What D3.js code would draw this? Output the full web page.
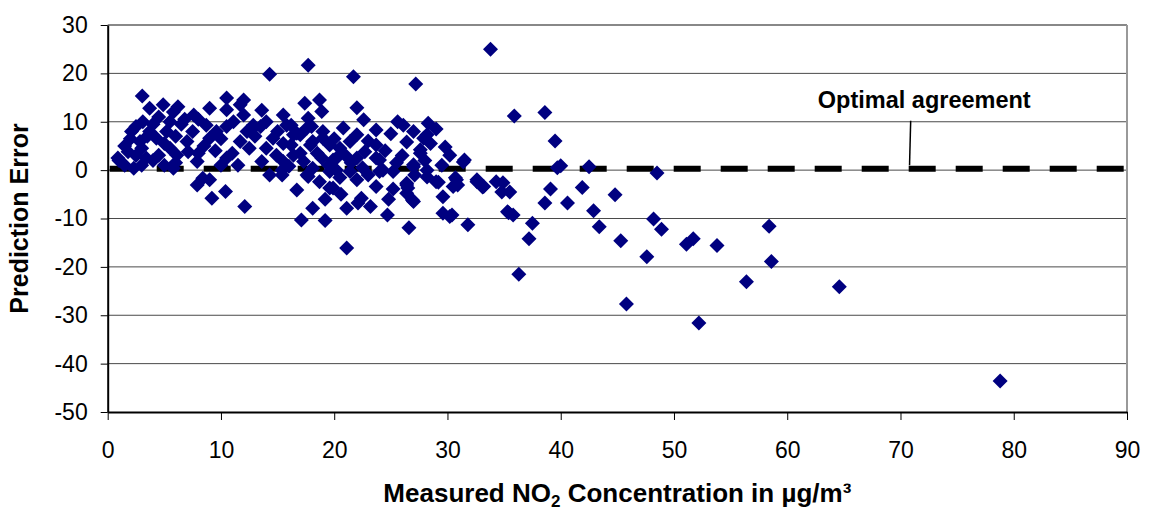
<!DOCTYPE html>
<html>
<head>
<meta charset="utf-8">
<script src="https://cdn.jsdelivr.net/npm/d3@7"></script>
<style>
  body { margin: 0; background: #fff; }
  text { font-family: "Liberation Sans", Arial, sans-serif; }
</style>
</head>
<body>
<div id="chart-area"></div>
<script>
// measured NO2 (x) vs prediction error (y)
var points = [
    [33.8,25.0],[27.2,17.8],[35.9,11.2],[38.6,11.9],[39.5,6.0],[40.0,0.9],[42.5,0.7],[39.7,0.5],
    [39.1,-3.9],[41.9,-3.6],[40.6,-6.8],[38.6,-6.8],[44.8,-5.1],[42.9,-8.4],[43.4,-11.7],[37.5,-11.0],
    [37.2,-14.2],[36.3,-21.5],[45.3,-14.6],[45.8,-27.7],[47.6,-17.9],[48.2,-10.1],[48.9,-12.2],[48.5,-0.6],
    [51.1,-15.3],[51.7,-14.2],[53.8,-15.6],[52.2,-31.6],[56.4,-23.1],[58.4,-11.6],[58.6,-18.9],[64.6,-24.1],
    [78.8,-43.6],
    [34.9,-2.6],[35.5,-4.5],[35.4,-8.8],[35.8,-9.3],[34.8,-4.5],[35.3,-8.6],[34.3,-2.4],[33.2,-3.4],
    [32.6,-2.4],[31.8,-11.3],[30.8,-2.0],[30.5,-3.4],[31.5,2.1],[31.4,1.7],[30.2,3.1],[29.8,4.8],
    [30.2,-9.6],[29.6,-8.9],[30.4,-9.3],[29.6,-5.5],[30.7,-1.6],[30.9,-3.1],[32.6,-2.0],[33.1,-3.5],
    [26.1,9.3],[28.3,9.7],[28.2,7.3],[26.4,5.8],[27.6,4.2],[27.0,0.7],[27.1,-1.0],[28.2,-1.4],
    [29.2,-2.5],[26.5,-3.7],[26.9,-6.2],
    [3.05,15.3],[0.9,2.5],[2.3,0.4],[2.1,8.0],[1.8,3.8],[3.7,12.8],[4.9,13.5],[6.2,13.1],
    [7.6,11.4],[3.1,10.0],[3.7,8.0],[2.85,5.9],[4.3,6.6],[5.2,8.0],[5.5,4.5],[4.5,3.1],
    [3.4,2.5],[6.1,3.1],[5.8,0.4],[7.0,5.9],[7.1,3.8],[7.9,1.8],[7.9,-3.1],[8.4,-1.7],
    [9.2,-5.8],[10.4,-4.4],[9.0,12.8],[10.5,14.9],[8.7,9.3],[9.0,6.6],[9.6,8.0],[10.5,2.5],
    [11.7,13.5],[12.0,11.4],[11.1,10.0],[11.7,5.9],[12.3,8.0],[12.1,-7.5],[13.6,1.8],[13.6,12.4],
    [14.0,10.0],[14.3,19.8],[12.85,9.3],[15.5,11.4],[14.6,6.6],[15.8,9.3],[16.4,7.3],[14.3,-1.0],
    [15.4,-1.0],[16.7,-4.1],[16.2,5.2],[14.9,3.1],[17.7,21.7],[17.4,13.8],[18.7,14.5],[18.9,12.1],
    [17.7,10.7],[17.0,7.3],[18.1,5.9],[18.1,0.4],[17.6,-1.0],[18.7,-2.4],[19.6,-3.7],[18.1,-7.9],
    [20.8,8.7],[21.1,-7.9],[17.1,-10.3],[19.2,-10.4],[21.1,-16.1],[17.7,-1.3],[19.9,-3.7],
    [22.1,-6.8],[22.4,-5.8],[22.0,-2.0],[23.7,-3.4],[24.7,-9.3],[25.2,-3.9],[26.4,-2.7],[27.0,-6.5],
    [26.6,-11.9],[26.4,-4.8],[27.6,3.5],[28.2,0.0],[29.0,-2.4],[15.4,0.0],[20.2,0.0],[19.9,2.1],
    [24.0,2.1],[24.3,0.0],[22.0,2.5],
    [21.7,19.3],[22.0,12.9],[22.6,10.4],[12.85,8.7],[16.2,9.3],[16.7,7.6],[17.6,8.7],[17.9,5.2],
    [19.0,6.6],[19.6,5.2],[20.5,4.5],[21.4,5.9],[22.0,7.3],[22.7,3.8],[23.7,8.3],[23.7,5.2],
    [25.6,10.0],[27.0,8.0],[27.9,6.6],[15.5,1.8],[16.4,3.1],[17.3,1.8],[18.9,2.5],[19.6,-0.3],
    [20.2,2.5],[21.4,-0.3],[23.7,2.5],[24.0,-0.3],[25.2,-0.3],[26.4,-3.1],[27.0,1.1],
    [1.0,2.0],[1.5,5.0],[2.0,6.5],[2.5,3.0],[3.0,4.5],[3.5,7.0],[4.0,9.5],[4.5,11.0],
    [5.0,5.5],[5.5,10.0],[6.0,7.0],[6.5,9.5],[6.0,1.5],[5.0,1.0],[4.0,2.0],[3.0,1.0],
    [7.5,8.0],[8.0,10.5],[8.5,5.0],[8.0,3.5],[9.5,4.0],[10.0,6.5],[10.5,9.0],[11.0,3.5],
    [11.5,1.0],[10.0,1.0],[9.0,-2.0],[12.5,4.5],[13.0,7.0],[13.5,9.0],[12.0,14.5],[10.5,12.5],
    [6.8,10.5],[2.5,9.0],[5.8,12.0],[1.5,1.0],
    [14.0,4.5],[15.0,8.0],[15.5,5.5],[16.0,0.8],[17.0,3.5],[18.0,9.0],[18.5,3.5],[19.0,8.0],
    [19.5,1.0],[20.0,6.5],[20.5,-1.5],[21.0,3.0],[21.5,1.5],[22.5,0.5],[23.0,6.0],[23.0,-1.0],
    [24.5,4.0],[25.0,7.5],[25.5,1.5],[26.0,3.0],[28.5,5.5],[29.0,8.5],[28.0,2.0],[29.5,1.0],
    [24.8,-6.0],[23.2,-7.5],[20.6,-5.0],[19.2,-6.0]
];

var xTicks = [0, 10, 20, 30, 40, 50, 60, 70, 80, 90];
var yTicks = [30, 20, 10, 0, -10, -20, -30, -40, -50];
var optimalValue = 0;
var optimalLabel = "Optimal agreement";
// label anchor and leader line, in data units
var labelAt = [72.1, 12.8];
var leader = [[70.9, 10.2], [70.8, 1.0]];

var margins = { top: 25, right: 38, bottom: 100, left: 107.7 },
    width = 1165,
    height = 512,
    plotW = width - margins.left - margins.right,
    plotH = height - margins.top - margins.bottom;

var svg = d3.select("#chart-area").append("svg")
    .attr("width", width)
    .attr("height", height)
    .style("display", "block");

svg.append("rect").attr("width", width).attr("height", height).attr("fill", "#fff");

var g = svg.append("g").attr("transform", `translate(${margins.left},${margins.top})`);

var x = d3.scaleLinear().domain([0, 90]).range([0, plotW]);
var y = d3.scaleLinear().domain([-50, 30]).range([plotH, 0]);

// gridlines
g.append("g").selectAll("line")
    .data(yTicks.filter(d => d !== 30 && d !== -50))
    .enter().append("line")
    .attr("x1", 0).attr("x2", plotW)
    .attr("y1", d => y(d)).attr("y2", d => y(d))
    .attr("stroke", "#4a4a4a").attr("stroke-width", 1);

// plot border (top / right)
g.append("line").attr("x1", 0).attr("x2", plotW).attr("y1", y(30)).attr("y2", y(30))
    .attr("stroke", "#888").attr("stroke-width", 2);
g.append("line").attr("x1", plotW).attr("x2", plotW).attr("y1", 0).attr("y2", plotH)
    .attr("stroke", "#999").attr("stroke-width", 2);

// optimal agreement dashed line
g.append("line")
    .attr("x1", x(0)).attr("x2", x(90))
    .attr("y1", y(optimalValue) - 1.5).attr("y2", y(optimalValue) - 1.5)
    .attr("stroke", "#000").attr("stroke-width", 6)
    .attr("stroke-dasharray", "27,20")
    .attr("stroke-dashoffset", -2);

// points
var diamond = "M0,-7.5L7.5,0L0,7.5L-7.5,0Z";
g.append("g").selectAll("path")
    .data(points)
    .enter().append("path")
    .attr("d", diamond)
    .attr("transform", d => `translate(${x(d[0])},${y(d[1])})`)
    .attr("fill", "#000080");

// axes
var xAxis = g.append("g").attr("transform", `translate(0,${plotH})`)
    .call(d3.axisBottom(x).tickValues(xTicks).tickFormat(d => String(d))
        .tickSizeInner(8).tickSizeOuter(0).tickPadding(22));
var yAxis = g.append("g")
    .call(d3.axisLeft(y).tickValues(yTicks).tickFormat(d => String(d))
        .tickSizeInner(7).tickSizeOuter(0).tickPadding(13));

[xAxis, yAxis].forEach(a => {
    a.select(".domain").attr("stroke", "#000").attr("stroke-width", 2);
    a.selectAll(".tick line").attr("stroke", "#000");
    a.selectAll("text").attr("font-family", "Liberation Sans, Arial, sans-serif")
        .attr("font-size", "23px").attr("fill", "#000");
});

// annotation
g.append("line")
    .attr("x1", x(leader[0][0])).attr("y1", y(leader[0][1]))
    .attr("x2", x(leader[1][0])).attr("y2", y(leader[1][1]))
    .attr("stroke", "#000").attr("stroke-width", 1.5);
g.append("text")
    .attr("x", x(labelAt[0])).attr("y", y(labelAt[1]))
    .attr("text-anchor", "middle")
    .attr("font-size", "23.5px").attr("font-weight", "bold")
    .text(optimalLabel);

// axis titles
var xTitle = g.append("text")
    .attr("x", plotW / 2).attr("y", plotH + 90)
    .attr("text-anchor", "middle")
    .attr("font-size", "26px").attr("font-weight", "bold");
xTitle.append("tspan").text("Measured NO");
xTitle.append("tspan").attr("font-size", "17px").attr("dy", 5).text("2");
xTitle.append("tspan").attr("dy", -5).text(" Concentration in µg/m³");

g.append("text")
    .attr("transform", "rotate(-90)")
    .attr("x", -plotH / 2).attr("y", -80)
    .attr("text-anchor", "middle")
    .attr("font-size", "25px").attr("font-weight", "bold")
    .text("Prediction Error");
</script>
</body>
</html>
